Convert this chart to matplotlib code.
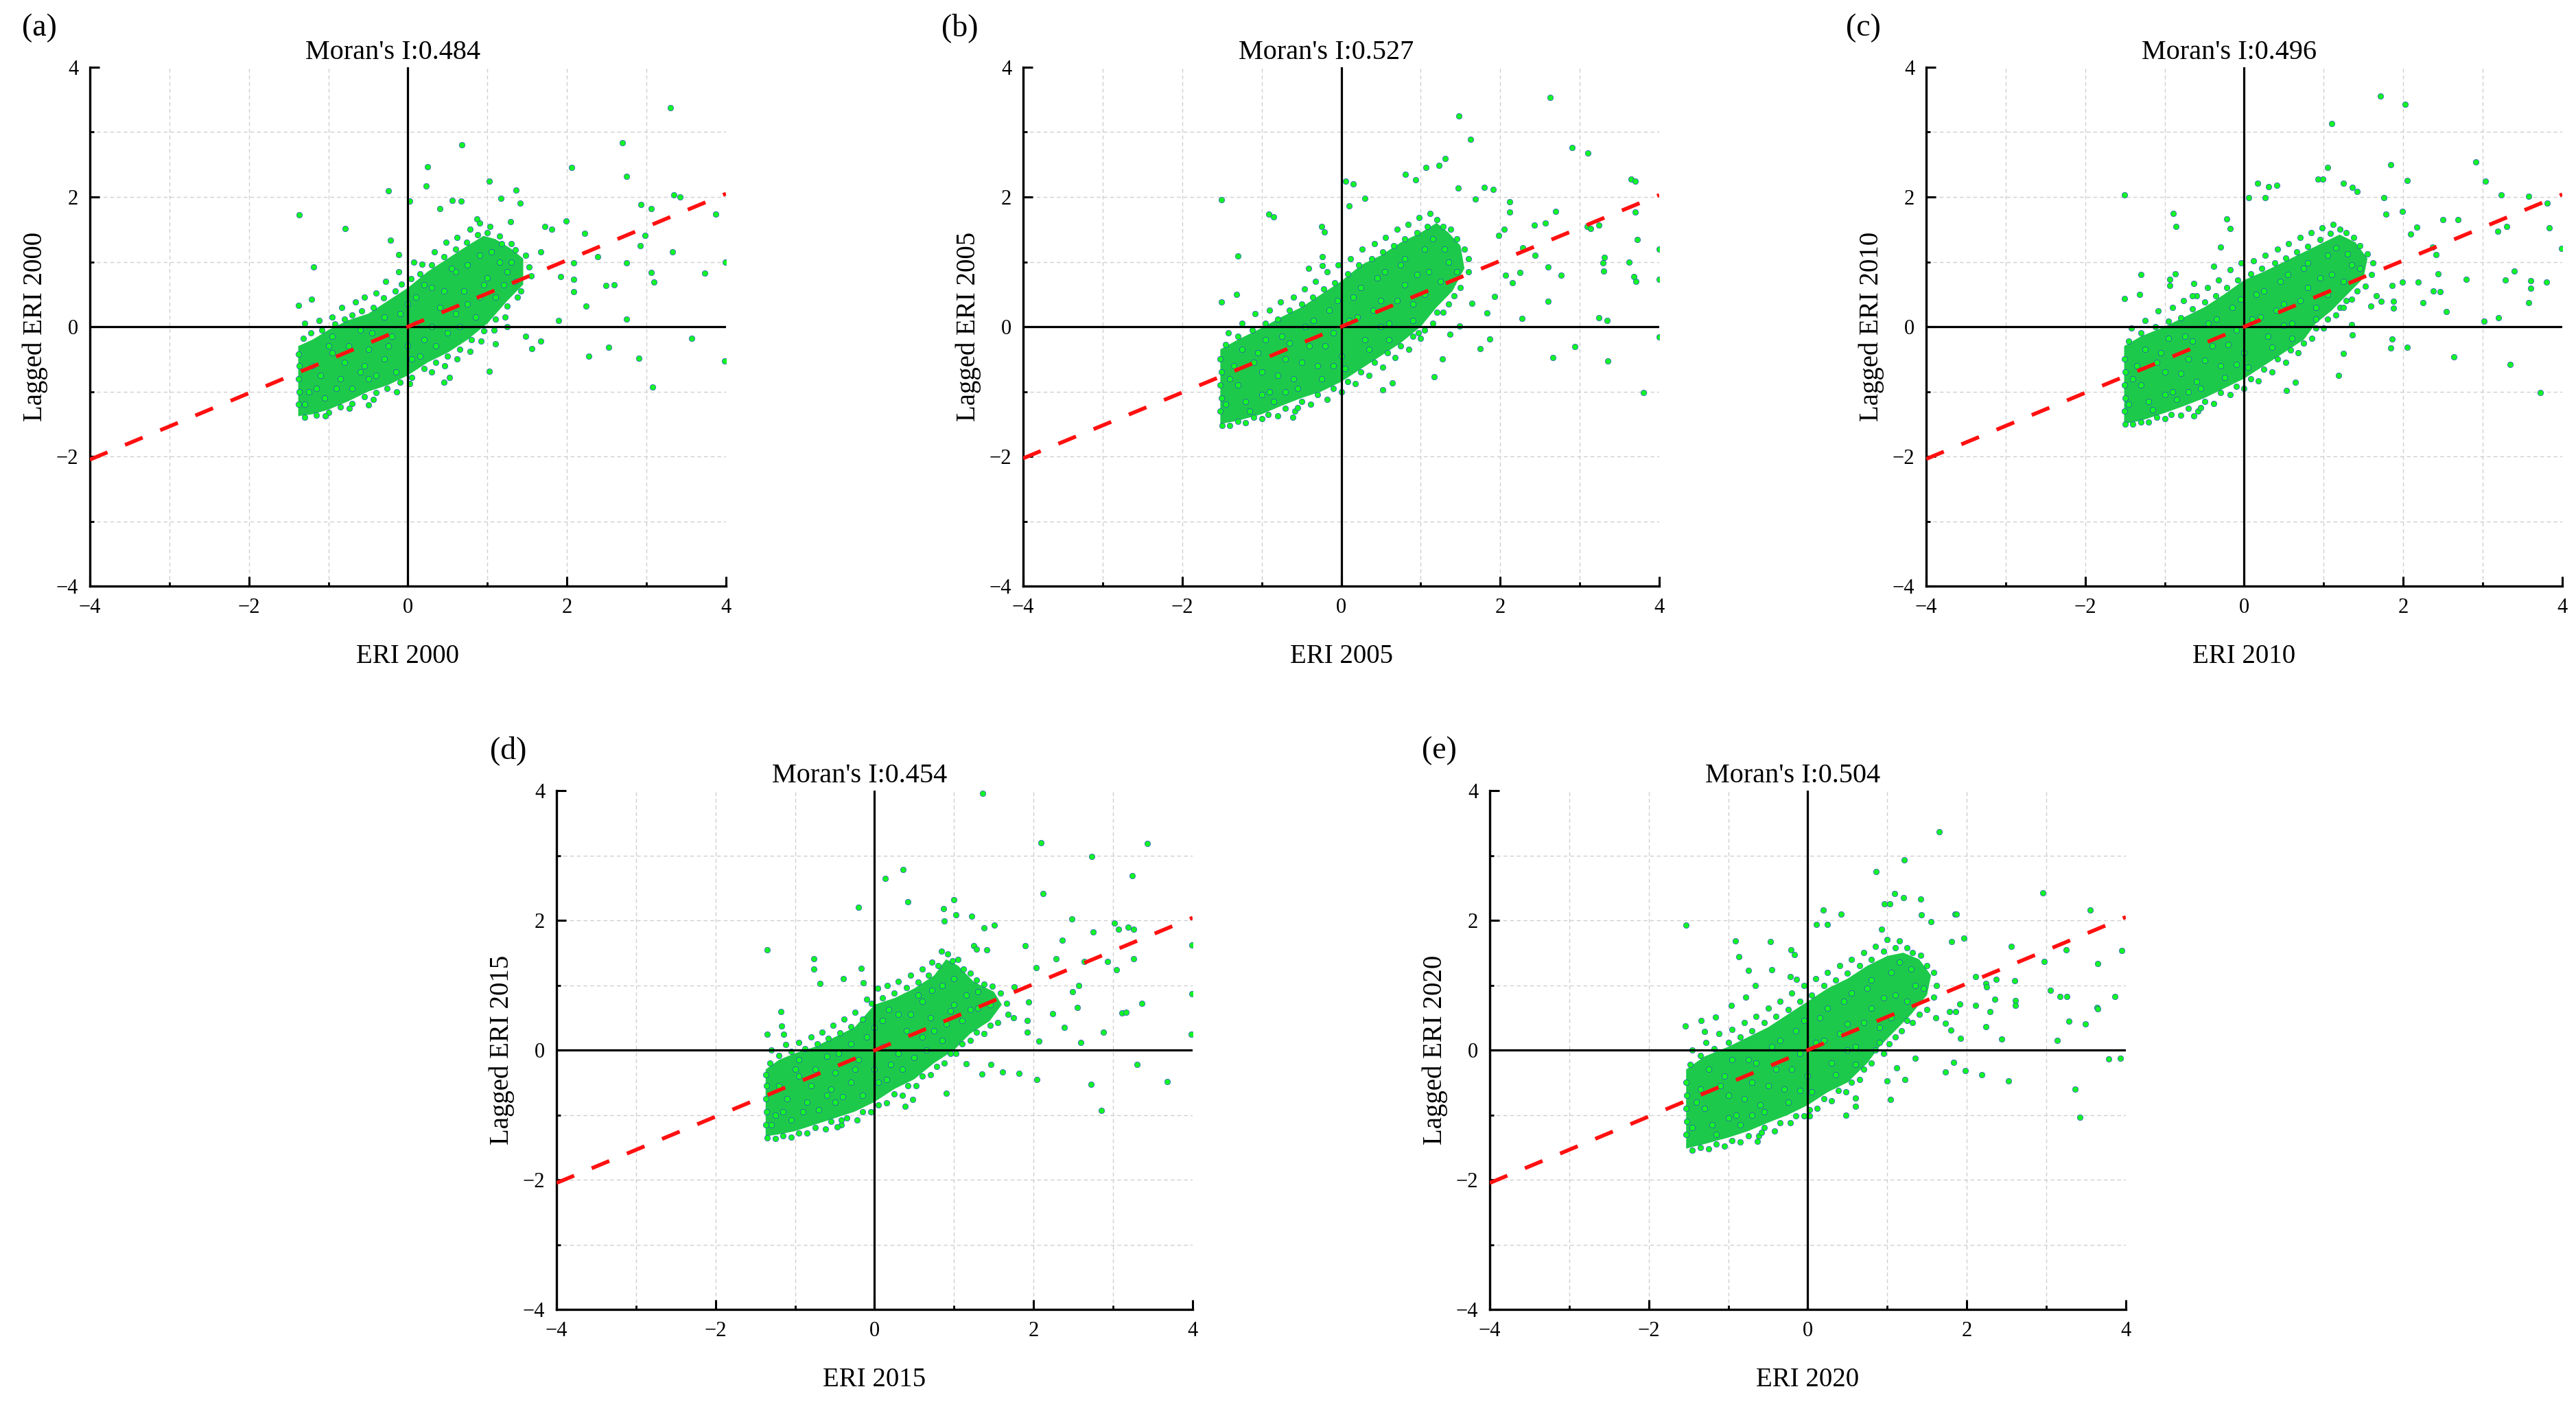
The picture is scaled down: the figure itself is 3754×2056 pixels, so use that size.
import numpy as np
import matplotlib
matplotlib.use("Agg")
import matplotlib.pyplot as plt
import matplotlib.ticker as ticker

plt.rcParams['font.family'] = ['Liberation Serif', 'DejaVu Serif']

tags = ['(a)', '(b)', '(c)', '(d)', '(e)']
years = ['2000', '2005', '2010', '2015', '2020']
morans_i = ['0.484', '0.527', '0.496', '0.454', '0.504']
# regression line read at x=-4 and x=4
fit_lo = [-2.05, -2.03, -2.04, -2.05, -2.05]
fit_hi = [2.05, 2.03, 2.04, 2.04, 2.05]

# outline of the part of each cloud where the dots fully overlap
hull_2000 = [(-1.38,-1.38),(-1.38,-0.3),(-1.2,-0.2),(-1.0,-0.05),(-0.75,0.1),(-0.5,0.2),(-0.25,0.4),(0.0,0.6),(0.25,0.85),(0.5,1.05),(0.75,1.25),(0.95,1.4),(1.1,1.35),(1.3,1.2),(1.45,1.05),(1.45,0.65),(1.25,0.4),(1.0,0.05),(0.75,-0.2),(0.5,-0.4),(0.25,-0.55),(0.0,-0.75),(-0.25,-0.9),(-0.5,-1.0),(-0.75,-1.15),(-1.0,-1.28),(-1.2,-1.35)]
hull_2005 = [(-1.52,-1.5),(-1.52,-0.35),(-1.3,-0.2),(-1.0,-0.02),(-0.75,0.15),(-0.5,0.3),(-0.25,0.5),(0.0,0.7),(0.25,0.95),(0.5,1.1),(0.75,1.3),(1.0,1.45),(1.2,1.6),(1.35,1.45),(1.5,1.25),(1.55,0.9),(1.4,0.55),(1.2,0.3),(1.0,0.0),(0.75,-0.25),(0.5,-0.45),(0.25,-0.65),(0.0,-0.85),(-0.25,-1.0),(-0.5,-1.1),(-0.75,-1.22),(-1.0,-1.35),(-1.3,-1.45)]
hull_2010 = [(-1.51,-1.5),(-1.51,-0.3),(-1.3,-0.15),(-1.0,0.0),(-0.75,0.15),(-0.5,0.3),(-0.25,0.5),(0.0,0.72),(0.25,0.85),(0.5,1.0),(0.75,1.15),(1.0,1.3),(1.2,1.42),(1.4,1.3),(1.55,1.05),(1.5,0.75),(1.3,0.5),(1.1,0.25),(0.9,0.05),(0.75,-0.2),(0.5,-0.4),(0.25,-0.6),(0.0,-0.8),(-0.25,-0.95),(-0.5,-1.1),(-0.75,-1.22),(-1.0,-1.33),(-1.3,-1.45)]
hull_2015 = [(-1.37,-1.33),(-1.37,-0.3),(-1.2,-0.15),(-1.0,-0.05),(-0.75,0.05),(-0.5,0.2),(-0.25,0.35),(0.0,0.7),(0.25,0.8),(0.5,0.95),(0.75,1.15),(0.9,1.4),(1.05,1.3),(1.25,1.05),(1.5,0.9),(1.6,0.7),(1.45,0.45),(1.2,0.25),(1.0,0.0),(0.75,-0.2),(0.5,-0.45),(0.25,-0.6),(0.0,-0.8),(-0.25,-0.95),(-0.5,-1.05),(-0.75,-1.15),(-1.0,-1.25),(-1.2,-1.3)]
hull_2020 = [(-1.53,-1.52),(-1.53,-0.3),(-1.3,-0.1),(-1.0,0.05),(-0.75,0.2),(-0.5,0.35),(-0.25,0.55),(0.0,0.75),(0.25,0.95),(0.5,1.1),(0.75,1.3),(1.0,1.45),(1.2,1.5),(1.4,1.4),(1.55,1.15),(1.5,0.85),(1.3,0.55),(1.1,0.3),(0.9,0.05),(0.75,-0.2),(0.5,-0.5),(0.25,-0.65),(0.0,-0.85),(-0.25,-1.0),(-0.5,-1.12),(-0.75,-1.25),(-1.0,-1.35),(-1.3,-1.45)]

# dots along the ragged edge and inside the cloud
edge_2000 = [(-1.32,-0.18),(-1.3,0.05),(-1.22,-0.1),(-1.12,0.1),(-1.08,-0.05),(-0.95,0.15),(-0.92,0.04),(-0.83,0.3),(-0.8,0.12),(-0.7,0.18),(-0.66,0.38),(-0.58,0.24),(-0.55,0.45),(-0.44,0.3),(-0.4,0.52),(-0.31,0.44),(-0.28,0.7),(-0.16,0.55),(-0.12,0.85),(-0.08,0.66),(0.04,0.74),(0.07,1.0),(0.15,0.82),(0.18,0.96),(0.3,0.95),(0.33,1.15),(0.45,1.08),(0.48,1.3),(0.6,1.2),(0.62,1.38),(0.74,1.3),(0.78,1.5),(0.88,1.42),(0.9,1.6),(1.0,1.45),(1.03,1.55),(1.15,1.4),(1.18,1.28),(1.3,1.28),(1.35,1.18),(1.48,1.1),(1.52,0.92),(1.55,0.78),(1.42,0.55),(1.38,0.45),(1.25,0.32),(1.22,0.15),(1.1,0.12),(1.08,-0.05),(0.95,-0.06),(0.92,-0.22),(0.8,-0.2),(0.78,-0.38),(0.65,-0.35),(0.62,-0.5),(0.5,-0.45),(0.46,-0.6),(0.35,-0.55),(0.3,-0.7),(0.2,-0.65),(0.05,-0.78),(0.02,-0.88),(-0.1,-0.86),(-0.14,-1.0),(-0.26,-0.95),(-0.4,-1.02),(-0.44,-1.12),(-0.55,-1.08),(-0.7,-1.18),(-0.74,-1.26),(-0.85,-1.24),(-1.0,-1.32),(-1.04,-1.38),(-1.15,-1.37),(-1.3,-1.4),(-1.38,-1.2),(-1.37,-1.0),(-1.38,-0.8),(-1.37,-0.6),(-1.38,-0.42),
             (-1.1,-0.75),(-0.8,-0.55),(-0.5,-0.35),(-0.2,-0.15),(0.1,0.05),(0.4,0.3),(0.7,0.55),(1.0,0.75),(1.25,0.85),(-1.25,-1.0),(-0.9,-0.95),(-0.6,-0.7),(-0.3,-0.5),(0.0,-0.3),(0.3,0.0),(0.6,0.2),(0.9,0.45),(-0.95,-0.4),(-0.6,-0.05),(-0.3,0.15),(0.0,0.35),(0.3,0.6),(0.6,0.85),(0.9,1.1),(1.15,1.0),
             (-1.3,-1.2),(-1.2,-0.6),(-1.05,-1.1),(-1.0,-0.3),(-0.85,-0.8),(-0.75,-0.3),(-0.7,-0.95),(-0.55,-0.6),(-0.45,-0.1),(-0.4,-0.75),(-0.25,-0.3),(-0.15,-0.7),(-0.1,0.2),(0.05,-0.5),(0.1,0.45),(0.2,-0.2),(0.2,0.65),(0.35,-0.3),(0.45,0.55),(0.5,-0.1),(0.55,0.9),(0.65,0.0),(0.75,0.35),(0.75,0.95),(0.85,0.15),(0.95,0.65),(1.05,1.15),(1.1,0.45),(1.2,0.65),(1.3,1.0),(1.35,0.7),(-1.15,-0.95),(-0.95,-0.15),(-0.5,-0.8),(0.15,-0.45)]
edge_2005 = [(-1.45,-0.28),(-1.42,-0.1),(-1.3,-0.15),(-1.25,0.05),(-1.12,-0.05),(-1.08,0.2),(-0.95,0.05),(-0.9,0.25),(-0.8,0.12),(-0.76,0.38),(-0.65,0.25),(-0.6,0.45),(-0.5,0.35),(-0.46,0.58),(-0.36,0.45),(-0.32,0.7),(-0.22,0.58),(-0.18,0.85),(-0.08,0.68),(-0.04,0.95),(0.08,0.82),(0.12,1.05),(0.22,0.95),(0.26,1.2),(0.38,1.05),(0.42,1.28),(0.52,1.15),(0.56,1.38),(0.66,1.25),(0.7,1.5),(0.8,1.35),(0.84,1.58),(0.95,1.45),(0.98,1.68),(1.08,1.55),(1.12,1.75),(1.2,1.65),(1.28,1.55),(1.38,1.5),(1.45,1.35),(1.55,1.2),(1.6,1.05),(1.6,0.85),
             (1.5,0.6),(1.42,0.48),(1.35,0.35),(1.28,0.22),(1.2,0.22),(1.15,0.05),(1.05,-0.05),(1.0,-0.18),(0.9,-0.15),(0.85,-0.35),(0.75,-0.3),(0.68,-0.48),(0.58,-0.4),(0.52,-0.62),(0.42,-0.55),(0.35,-0.75),(0.25,-0.7),(0.18,-0.88),(0.08,-0.85),(0.0,-1.0),(-0.1,-0.95),(-0.18,-1.12),(-0.3,-1.05),(-0.38,-1.2),(-0.5,-1.15),(-0.58,-1.3),(-0.7,-1.26),(-0.8,-1.38),(-0.92,-1.35),(-1.0,-1.42),(-1.1,-1.4),(-1.2,-1.48),(-1.3,-1.46),(-1.4,-1.52),(-1.5,-1.52),
             (-1.52,-1.3),(-1.51,-1.1),(-1.52,-0.9),(-1.51,-0.7),(-1.52,-0.5),
             (-1.3,-0.9),(-1.0,-0.7),(-0.7,-0.5),(-0.4,-0.3),(-0.1,-0.1),(0.2,0.15),(0.5,0.4),(0.8,0.65),(1.1,0.85),(1.35,1.0),(-1.35,-0.6),(-1.05,-0.4),(-0.75,-0.15),(-0.45,0.0),(-0.15,0.25),(0.15,0.45),(0.45,0.75),(0.75,0.95),(1.05,1.2),(-1.2,-1.15),(-0.9,-1.0),(-0.6,-0.8),(-0.3,-0.6),(0.0,-0.45),(0.3,-0.2),(0.6,0.05),(0.9,0.35),
             (-1.45,-1.2),(-1.4,-0.8),(-1.25,-0.35),(-1.15,-1.3),(-1.1,-0.55),(-0.95,-0.2),(-0.85,-1.15),(-0.8,-0.75),(-0.65,-0.25),(-0.55,-0.95),(-0.5,-0.55),(-0.35,0.1),(-0.25,-0.8),(-0.2,-0.3),(-0.05,0.4),(0.05,-0.65),(0.1,0.1),(0.25,0.6),(0.35,-0.35),(0.4,0.25),(0.55,0.85),(0.6,-0.2),(0.7,0.4),(0.8,1.05),(0.9,0.1),(0.95,0.8),(1.05,0.5),(1.15,1.35),(1.25,0.7),(1.3,1.2),(1.45,0.85),(-1.0,-1.05),(-0.7,-1.0),(-0.1,-0.6),(0.5,0.0)]
edge_2010 = [(-1.45,-0.22),(-1.42,-0.02),(-1.3,-0.1),(-1.25,0.1),(-1.12,0.0),(-1.08,0.24),(-0.95,0.08),(-0.9,0.3),(-0.8,0.14),(-0.76,0.4),(-0.65,0.28),(-0.6,0.48),(-0.5,0.38),(-0.46,0.6),(-0.36,0.48),(-0.32,0.72),(-0.22,0.6),(-0.18,0.88),(-0.08,0.72),(-0.04,0.98),(0.08,0.82),(0.12,1.02),(0.22,0.9),(0.26,1.1),(0.38,0.98),(0.42,1.2),(0.52,1.06),(0.56,1.28),(0.66,1.15),(0.7,1.38),(0.8,1.24),(0.84,1.45),(0.95,1.34),(0.98,1.52),(1.08,1.44),(1.12,1.58),(1.2,1.5),(1.28,1.45),(1.38,1.38),(1.45,1.25),(1.55,1.12),(1.62,0.98),(1.6,0.8),
             (1.52,0.62),(1.42,0.55),(1.35,0.42),(1.28,0.4),(1.2,0.3),(1.15,0.18),(1.05,0.12),(1.0,-0.02),(0.9,-0.02),(0.85,-0.18),(0.75,-0.25),(0.68,-0.4),(0.58,-0.36),(0.52,-0.55),(0.42,-0.5),(0.35,-0.7),(0.25,-0.66),(0.18,-0.84),(0.08,-0.8),(0.0,-0.95),(-0.1,-0.92),(-0.18,-1.05),(-0.3,-1.02),(-0.38,-1.18),(-0.5,-1.15),(-0.58,-1.3),(-0.7,-1.26),(-0.8,-1.36),(-0.92,-1.35),(-1.0,-1.42),(-1.1,-1.4),(-1.2,-1.47),(-1.3,-1.47),(-1.4,-1.5),(-1.5,-1.5),
             (-1.51,-1.3),(-1.5,-1.1),(-1.51,-0.9),(-1.5,-0.7),(-1.51,-0.5),
             (-1.3,-0.9),(-1.0,-0.7),(-0.7,-0.5),(-0.4,-0.3),(-0.1,-0.05),(0.2,0.15),(0.5,0.35),(0.8,0.6),(1.1,0.8),(1.35,0.95),(-1.35,-0.6),(-1.05,-0.4),(-0.75,-0.15),(-0.45,0.05),(-0.15,0.3),(0.15,0.5),(0.45,0.7),(0.75,0.9),(1.05,1.1),(-1.2,-1.15),(-0.9,-1.0),(-0.6,-0.85),(-0.3,-0.6),(0.0,-0.4),(0.3,-0.15),(0.6,0.05),(0.9,0.3),
             (-1.45,-1.2),(-1.4,-0.8),(-1.25,-0.35),(-1.15,-1.28),(-1.1,-0.55),(-0.95,-0.18),(-0.85,-1.12),(-0.8,-0.72),(-0.65,-0.22),(-0.55,-0.95),(-0.5,-0.52),(-0.35,0.12),(-0.25,-0.78),(-0.2,-0.28),(-0.05,0.42),(0.05,-0.62),(0.1,0.12),(0.25,0.55),(0.35,-0.32),(0.4,0.25),(0.55,0.8),(0.6,-0.18),(0.7,0.4),(0.8,0.98),(0.9,0.12),(0.95,0.75),(1.05,0.5),(1.15,1.22),(1.25,0.7),(1.3,1.12),(1.45,0.9),(-1.0,-1.05),(-0.7,-1.0),(-0.1,-0.58),(0.5,0.02)]
edge_2015 = [(-1.32,-0.2),(-1.3,0.0),(-1.2,-0.08),(-1.12,0.08),(-1.05,-0.02),(-0.95,0.12),(-0.88,0.02),(-0.8,0.2),(-0.72,0.1),(-0.66,0.28),(-0.58,0.18),(-0.52,0.38),(-0.44,0.26),(-0.38,0.48),(-0.3,0.36),(-0.25,0.58),(-0.15,0.48),(-0.1,0.78),(-0.04,0.72),(0.04,0.95),(0.1,0.8),(0.16,1.0),(0.25,0.88),(0.3,1.06),(0.4,0.96),(0.45,1.15),(0.55,1.05),(0.6,1.25),(0.68,1.15),(0.72,1.35),(0.8,1.3),(0.84,1.52),(0.92,1.48),(0.98,1.38),(1.05,1.4),(1.12,1.25),(1.2,1.18),(1.28,1.08),(1.38,1.02),(1.48,0.98),(1.58,0.88),(1.66,0.72),(1.68,0.55),
             (1.55,0.42),(1.45,0.38),(1.38,0.25),(1.28,0.28),(1.2,0.15),(1.1,0.1),(1.02,-0.05),(0.95,-0.05),(0.88,-0.2),(0.78,-0.25),(0.7,-0.38),(0.6,-0.4),(0.52,-0.55),(0.42,-0.55),(0.35,-0.7),(0.25,-0.68),(0.15,-0.82),(0.05,-0.85),(-0.05,-0.95),(-0.15,-0.95),(-0.22,-1.08),(-0.35,-1.05),(-0.42,-1.15),(-0.55,-1.1),(-0.62,-1.22),(-0.75,-1.2),(-0.85,-1.28),(-0.95,-1.28),(-1.05,-1.34),(-1.15,-1.32),(-1.25,-1.37),(-1.35,-1.35),
             (-1.37,-1.15),(-1.36,-0.95),(-1.37,-0.75),(-1.36,-0.55),(-1.37,-0.38),
             (-1.1,-0.75),(-0.8,-0.55),(-0.5,-0.35),(-0.2,-0.15),(0.1,0.05),(0.4,0.3),(0.7,0.5),(1.0,0.7),(1.3,0.65),(-1.25,-1.0),(-0.9,-0.95),(-0.6,-0.7),(-0.3,-0.5),(0.0,-0.3),(0.3,-0.05),(0.6,0.2),(0.9,0.4),(-0.95,-0.4),(-0.6,-0.1),(-0.3,0.1),(0.0,0.35),(0.3,0.55),(0.6,0.75),(0.85,1.0),(1.15,0.85),
             (-1.3,-1.15),(-1.2,-0.55),(-1.05,-1.08),(-1.0,-0.3),(-0.85,-0.8),(-0.75,-0.3),(-0.7,-0.92),(-0.55,-0.6),(-0.45,-0.05),(-0.4,-0.72),(-0.25,-0.3),(-0.15,-0.7),(-0.1,0.2),(0.05,-0.5),(0.1,0.45),(0.2,-0.22),(0.18,0.62),(0.35,-0.3),(0.45,0.55),(0.5,-0.12),(0.55,0.85),(0.65,0.0),(0.75,0.3),(0.72,0.92),(0.85,0.15),(0.95,0.6),(1.0,1.1),(1.1,0.45),(1.2,0.62),(1.3,0.9),(1.45,0.7),(-1.15,-0.95),(-0.95,-0.15),(-0.5,-0.8),(0.15,-0.45)]
edge_2020 = [(-1.48,-0.22),(-1.45,0.0),(-1.35,-0.08),(-1.28,0.12),(-1.18,0.02),(-1.12,0.25),(-1.0,0.12),(-0.95,0.32),(-0.85,0.2),(-0.8,0.42),(-0.7,0.3),(-0.65,0.52),(-0.55,0.42),(-0.5,0.65),(-0.4,0.52),(-0.35,0.75),(-0.25,0.62),(-0.2,0.88),(-0.1,0.75),(-0.05,1.0),(0.05,0.85),(0.1,1.1),(0.2,1.0),(0.25,1.2),(0.35,1.08),(0.4,1.3),(0.5,1.18),(0.55,1.4),(0.65,1.3),(0.7,1.5),(0.8,1.4),(0.85,1.6),(0.95,1.52),(1.0,1.7),(1.1,1.58),(1.15,1.68),(1.25,1.58),(1.32,1.5),(1.42,1.46),(1.5,1.3),(1.58,1.2),(1.62,1.0),(1.58,0.82),
             (1.5,0.62),(1.4,0.55),(1.32,0.42),(1.25,0.45),(1.18,0.3),(1.1,0.2),(1.02,0.1),(0.95,-0.05),(0.85,0.0),(0.8,-0.2),(0.7,-0.3),(0.65,-0.45),(0.55,-0.5),(0.48,-0.65),(0.38,-0.62),(0.3,-0.78),(0.2,-0.75),(0.12,-0.9),(0.02,-0.92),(-0.05,-1.02),(-0.15,-1.02),(-0.22,-1.12),(-0.35,-1.12),(-0.42,-1.25),(-0.55,-1.2),(-0.62,-1.32),(-0.75,-1.32),(-0.85,-1.42),(-0.95,-1.4),(-1.05,-1.48),(-1.15,-1.45),(-1.25,-1.52),(-1.35,-1.5),(-1.45,-1.54),
             (-1.53,-1.3),(-1.52,-1.1),(-1.53,-0.9),(-1.52,-0.7),(-1.53,-0.5),
             (-1.3,-0.9),(-1.0,-0.7),(-0.7,-0.5),(-0.4,-0.3),(-0.1,-0.05),(0.2,0.15),(0.5,0.4),(0.8,0.65),(1.1,0.85),(1.35,1.0),(-1.35,-0.6),(-1.05,-0.4),(-0.75,-0.15),(-0.45,0.05),(-0.15,0.3),(0.15,0.5),(0.45,0.75),(0.75,0.95),(1.05,1.2),(-1.2,-1.15),(-0.9,-1.0),(-0.6,-0.85),(-0.3,-0.6),(0.0,-0.4),(0.3,-0.2),(0.6,0.05),(0.9,0.35),
             (-1.45,-1.2),(-1.4,-0.8),(-1.25,-0.3),(-1.15,-1.3),(-1.1,-0.55),(-0.95,-0.15),(-0.85,-1.15),(-0.8,-0.75),(-0.65,-0.2),(-0.55,-0.95),(-0.5,-0.55),(-0.35,0.15),(-0.25,-0.8),(-0.2,-0.3),(-0.05,0.45),(0.05,-0.65),(0.1,0.12),(0.25,0.65),(0.35,-0.38),(0.4,0.25),(0.55,0.88),(0.6,-0.22),(0.7,0.42),(0.8,1.08),(0.9,0.12),(0.95,0.8),(1.05,0.5),(1.15,1.35),(1.25,0.75),(1.3,1.25),(1.45,0.95),(-1.0,-1.05),(-0.7,-1.0),(-0.1,-0.62),(0.5,0.0)]

# scattered points away from the dense part
out_2000 = [(3.30,3.38),(0.68,2.80),(2.70,2.84),(0.25,2.47),(2.06,2.45),(2.75,2.32),(-0.25,2.09),(0.23,2.17),(1.02,2.24),(1.36,2.11),(-1.37,1.72),(-0.79,1.51),(0.02,1.94),(0.67,1.94),(1.17,1.98),(1.41,1.91),(3.34,2.03),(3.42,2.00),(2.93,1.88),(3.06,1.82),(3.87,1.74),(2.98,1.41),(2.92,1.25),(3.33,1.15),(3.99,1.00),(2.75,0.98),(3.06,0.84),(3.73,0.83),(3.09,0.69),(2.49,0.64),(2.59,0.65),(2.08,0.98),(2.08,0.73),(2.08,0.54),(2.24,0.32),(2.75,0.12),(1.89,0.09),(2.39,1.08),(2.22,1.44),(1.99,1.63),(1.67,1.15),(1.92,0.77),(3.57,-0.18),(3.98,-0.53),(2.52,-0.32),(2.90,-0.49),(2.27,-0.46),(3.08,-0.93),(1.67,-0.22),(1.56,-0.34),(1.10,-0.26),(1.02,-0.69),(0.45,-0.86),(0.52,-0.78),(-0.50,-1.21),(-1.19,0.92),(-1.21,0.42),(-1.38,0.33),(-0.22,1.33),(-0.12,1.11),(0.40,1.82),(0.56,1.95),(0.87,1.66),(1.29,1.62),(1.72,1.54),(1.81,1.50),(1.48,-0.15),(1.25,0.00)]
out_2005 = [(2.63,3.53),(1.48,3.25),(1.63,2.89),(2.90,2.76),(3.10,2.68),(1.31,2.59),(1.23,2.49),(1.07,2.45),(0.81,2.35),(0.94,2.26),(0.06,2.24),(0.15,2.20),(3.65,2.27),(3.70,2.24),(1.80,2.15),(1.91,2.12),(1.47,2.14),(-1.51,1.96),(0.30,1.98),(0.10,1.86),(1.69,1.97),(2.12,1.93),(2.12,1.77),(-0.91,1.74),(-0.85,1.69),(2.70,1.78),(3.70,1.77),(2.43,1.57),(2.57,1.60),(3.09,1.55),(3.14,1.51),(3.24,1.57),(2.05,1.50),(1.98,1.41),(3.72,1.34),(4.00,1.20),(2.28,1.22),(2.44,1.10),(2.60,0.92),(3.31,1.07),(3.29,0.98),(3.62,1.00),(2.77,0.79),(3.30,0.86),(3.68,0.77),(3.71,0.70),(4.00,0.73),(2.07,0.79),(2.15,0.68),(2.25,0.84),(2.60,0.39),(2.27,0.13),(3.24,0.14),(3.34,0.09),(4.00,-0.16),(2.94,-0.31),(2.66,-0.48),(3.35,-0.53),(3.80,-1.02),(1.87,-0.19),(1.75,-0.34),(1.27,-0.50),(1.17,-0.77),(0.64,-0.87),(0.52,-0.97),(-0.61,-1.40),(-0.55,-1.25),(-1.51,0.38),(-1.32,0.50),(-1.30,1.09),(-0.25,1.55),(-0.21,1.46),(-0.24,1.08),(-0.24,0.94),(-0.41,0.90),(1.83,0.21),(1.93,0.47),(1.64,0.36),(1.49,0.01),(1.37,-0.12),(0.97,-0.09)]
out_2010 = [(1.71,3.56),(2.02,3.43),(1.10,3.13),(1.84,2.50),(2.91,2.54),(1.05,2.45),(2.05,2.25),(3.03,2.24),(0.93,2.28),(0.99,2.28),(0.17,2.21),(0.31,2.16),(0.41,2.18),(1.25,2.21),(1.36,2.15),(1.42,2.08),(-1.51,2.03),(0.06,1.99),(0.26,1.99),(1.76,1.99),(3.23,2.03),(3.58,2.01),(3.81,1.91),(-0.89,1.75),(-0.86,1.54),(-0.22,1.66),(-0.18,1.51),(1.78,1.74),(1.99,1.78),(2.50,1.65),(2.69,1.65),(3.30,1.55),(3.84,1.52),(3.19,1.47),(2.17,1.53),(2.09,1.43),(3.99,1.21),(2.37,1.23),(2.41,1.11),(2.44,0.82),(2.38,0.55),(2.46,0.54),(2.79,0.73),(3.28,0.72),(3.40,0.86),(3.60,0.71),(3.60,0.59),(3.80,0.69),(3.58,0.37),(1.99,0.69),(2.19,0.69),(2.25,0.37),(2.54,0.23),(3.20,0.14),(3.02,0.08),(1.86,0.63),(1.88,0.39),(1.88,0.29),(1.66,0.48),(1.59,0.32),(1.72,0.39),(2.05,-0.32),(1.84,-0.33),(1.86,-0.19),(2.64,-0.47),(3.34,-0.58),(3.72,-1.02),(1.19,-0.75),(1.25,-0.41),(1.36,-0.13),(0.64,-0.86),(0.53,-0.98),(-0.63,-1.38),(-0.55,-1.25),(-1.51,0.43),(-1.32,0.50),(-1.30,0.80),(-0.30,1.23),(-0.38,0.93),(-0.94,0.63),(-0.94,0.73),(-0.87,0.82),(-0.63,0.67),(-0.65,0.48),(1.25,0.30),(1.35,0.03)]
out_2015 = [(1.36,3.96),(2.09,3.20),(3.43,3.19),(2.73,2.98),(3.24,2.69),(0.36,2.78),(0.13,2.65),(2.12,2.41),(0.42,2.29),(1.00,2.32),(-0.20,2.20),(0.87,2.18),(1.02,2.08),(1.22,2.06),(0.88,1.99),(2.48,2.02),(3.02,1.96),(3.07,1.86),(3.19,1.89),(3.26,1.86),(2.75,1.82),(1.38,1.88),(1.51,1.93),(2.36,1.69),(3.99,1.62),(1.89,1.61),(-1.35,1.54),(-0.76,1.41),(-0.76,1.25),(-0.17,1.26),(-0.14,1.04),(-0.39,1.10),(-0.69,1.03),(2.28,1.41),(2.03,1.27),(2.64,1.36),(2.93,1.36),(3.04,1.24),(3.26,1.41),(2.49,0.90),(2.57,0.99),(2.55,0.66),(2.24,0.56),(2.39,0.35),(3.11,0.57),(3.16,0.58),(3.36,0.72),(3.99,0.87),(3.98,0.24),(2.88,0.27),(2.59,0.12),(2.07,0.14),(1.94,0.74),(1.92,0.45),(1.92,0.28),(1.75,0.50),(1.76,0.97),(3.30,-0.22),(3.68,-0.49),(2.72,-0.53),(2.85,-0.93),(2.04,-0.45),(1.82,-0.36),(1.61,-0.34),(1.46,-0.22),(1.35,-0.37),(0.90,-0.67),(0.38,-0.87),(0.48,-0.76),(-0.47,-1.19),(-0.42,-1.08),(-1.35,0.24),(-1.17,0.37),(-1.14,0.24),(-1.18,0.59),(1.15,-0.21),(1.25,1.61),(1.28,1.56),(1.41,1.55)]
out_2020 = [(1.65,3.36),(1.21,2.93),(0.86,2.75),(2.96,2.42),(1.09,2.41),(1.20,2.35),(0.96,2.25),(1.03,2.25),(1.42,2.33),(0.19,2.16),(0.42,2.09),(3.55,2.16),(1.85,2.10),(1.87,2.10),(1.43,2.08),(1.55,1.98),(-1.53,1.93),(0.11,1.94),(0.25,1.94),(0.93,1.86),(-0.91,1.68),(-0.87,1.44),(-0.47,1.67),(-0.21,1.55),(-0.17,1.47),(-0.75,1.23),(-0.66,0.99),(-0.45,1.24),(-0.22,1.13),(-0.14,1.09),(1.81,1.67),(1.96,1.73),(2.56,1.60),(3.25,1.55),(3.95,1.53),(2.97,1.37),(3.65,1.33),(2.11,1.13),(2.24,1.03),(2.25,0.97),(2.37,1.09),(2.60,1.07),(3.05,0.92),(3.17,0.83),(3.26,0.83),(3.86,0.83),(2.35,0.78),(2.61,0.76),(2.61,0.69),(3.64,0.66),(3.65,0.64),(2.11,0.69),(2.29,0.59),(1.91,0.71),(1.86,0.59),(1.78,0.59),(1.80,0.31),(1.92,0.18),(1.61,0.50),(1.73,0.41),(2.24,0.36),(2.44,0.17),(3.14,0.15),(3.28,0.44),(3.49,0.40),(3.78,-0.14),(3.93,-0.13),(3.36,-0.60),(3.42,-1.04),(2.52,-0.48),(2.19,-0.38),(1.98,-0.32),(1.83,-0.19),(1.73,-0.34),(1.35,-0.13),(1.22,-0.45),(1.04,-0.76),(1.00,-0.48),(1.12,-0.28),(0.60,-0.74),(0.60,-0.87),(0.48,-1.00),(0.02,-1.02),(-0.63,-1.41),(-0.58,-1.27),(-1.54,0.37),(-1.34,0.45),(-1.16,0.51),(-1.30,0.29),(-0.96,0.69),(-0.78,0.82)]

hulls = [hull_2000, hull_2005, hull_2010, hull_2015, hull_2020]
edges = [edge_2000, edge_2005, edge_2010, edge_2015, edge_2020]
outs = [out_2000, out_2005, out_2010, out_2015, out_2020]

W, H = 3755, 2056
fig = plt.figure(figsize=(W / 100, H / 100), dpi=100)

# axes boxes in pixels: left, top
boxes = [(131, 98), (1491, 98), (2807, 98), (811, 1152), (2171, 1152)]
aw, ah = 927, 756
tag_pos = [(32, 41), (1372, 41), (2690, 41), (714, 1094), (2072, 1094)]

for i in range(5):
    l, t = boxes[i]
    ax = fig.add_axes([l / W, 1 - (t + ah) / H, aw / W, ah / H])
    ax.set_xlim(-4, 4)
    ax.set_ylim(-4, 4)

    for v in [-3, -2, -1, 1, 2, 3]:
        ax.axvline(v, color='#cfcfcf', lw=1.0, ls=(0, (4, 3)), zorder=1)
        ax.axhline(v, color='#cfcfcf', lw=1.0, ls=(0, (4, 3)), zorder=1)

    hx, hy = zip(*hulls[i])
    ax.fill(hx, hy, color='#1dc94a', lw=0, zorder=2)

    px, py = zip(*(edges[i] + outs[i]))
    ax.scatter(px, py, s=36, c='#14f526', edgecolors='#2a4ac8', linewidths=0.5, zorder=3)

    ax.axhline(0, color='black', lw=2.3, zorder=3.5)
    ax.axvline(0, color='black', lw=2.3, zorder=3.5)
    ax.plot([-4, 4], [fit_lo[i], fit_hi[i]], color='#ff1010', lw=4.0, ls=(0, (5, 5)), zorder=4)

    for s in ['top', 'right']:
        ax.spines[s].set_visible(False)
    for s in ['left', 'bottom']:
        ax.spines[s].set_linewidth(2.4)

    ax.xaxis.set_major_locator(ticker.MultipleLocator(2))
    ax.xaxis.set_minor_locator(ticker.MultipleLocator(1))
    ax.yaxis.set_major_locator(ticker.MultipleLocator(2))
    ax.yaxis.set_minor_locator(ticker.MultipleLocator(1))
    ax.tick_params(which='major', direction='in', length=10, width=2.2, labelsize=22, pad=12)
    ax.tick_params(which='minor', direction='in', length=4.5, width=2.0)

    ax.set_xlabel('ERI ' + years[i], fontsize=28, va='center')
    ax.xaxis.set_label_coords(0.5, -0.136)
    ax.set_ylabel('Lagged ERI ' + years[i], fontsize=28, va='center')
    ax.yaxis.set_label_coords(-0.086, 0.5)

    ax.text(0.476, 1.028, "Moran's I:" + morans_i[i], transform=ax.transAxes,
            ha='center', va='center', fontsize=29)

    tx, ty = tag_pos[i]
    fig.text(tx / W, 1 - ty / H, tags[i], ha='left', va='center', fontsize=33)

fig.savefig('out.png', dpi=100)
